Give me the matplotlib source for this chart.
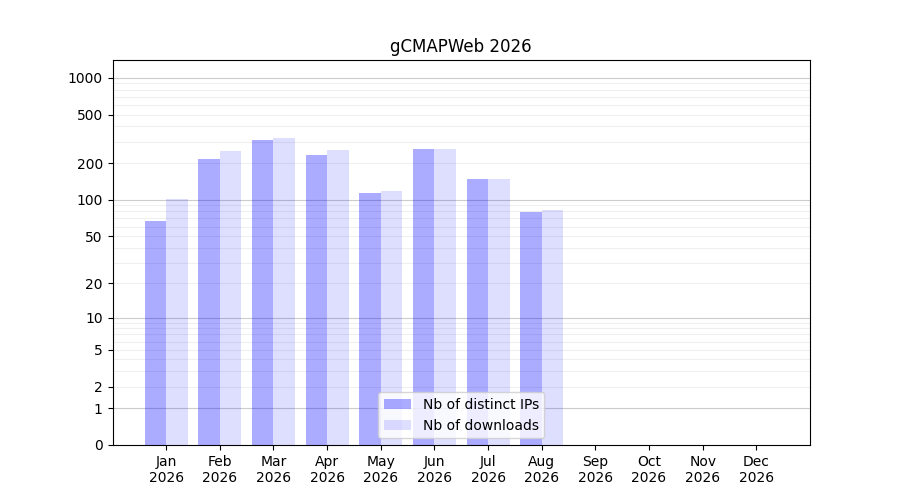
import matplotlib
matplotlib.use("Agg")
import matplotlib.pyplot as plt
import numpy as np

months = ['Jan', 'Feb', 'Mar', 'Apr', 'May', 'Jun', 'Jul', 'Aug', 'Sep', 'Oct', 'Nov', 'Dec']
year = 2026
nb_ips = [67, 217, 311, 234, 114, 262, 149, 79, 0, 0, 0, 0]
nb_downloads = [102, 253, 323, 257, 118, 262, 149, 82, 0, 0, 0, 0]
yticks = [0, 1, 2, 5, 10, 20, 50, 100, 200, 500, 1000]

fig, ax = plt.subplots(figsize=(9, 5), dpi=100)

ax.set_yscale('function', functions=(lambda v: np.log10(1 + np.clip(v, 0, None)),
                                     lambda v: 10 ** v - 1))

x = np.arange(len(months))
width = 0.4

# grid: decades darker, intermediate lighter
for dec in [1, 10, 100, 1000]:
    ax.axhline(dec, color='grey', alpha=0.4, lw=0.8, zorder=0)
    for k in range(2, 10):
        if dec * k < 1400:
            ax.axhline(dec * k, color='grey', alpha=0.12, lw=0.8, zorder=0)

ax.bar(x, nb_ips, width=-width, align='edge', color='blue', alpha=0.33,
       label='Nb of distinct IPs', zorder=2)
ax.bar(x, nb_downloads, width=width, align='edge', color='blue', alpha=0.13,
       label='Nb of downloads', zorder=2)

ax.set_xlim(-1, 12)
ax.set_ylim(0, 1400)
ax.set_yticks(yticks)
ax.set_yticklabels([str(t) for t in yticks])
ax.minorticks_off()
ax.set_xticks(x)
ax.set_xticklabels([f'{m}\n{year}' for m in months])
ax.set_title(f'gCMAPWeb {year}')
ax.legend(loc='lower center')

plt.savefig('out.png')
